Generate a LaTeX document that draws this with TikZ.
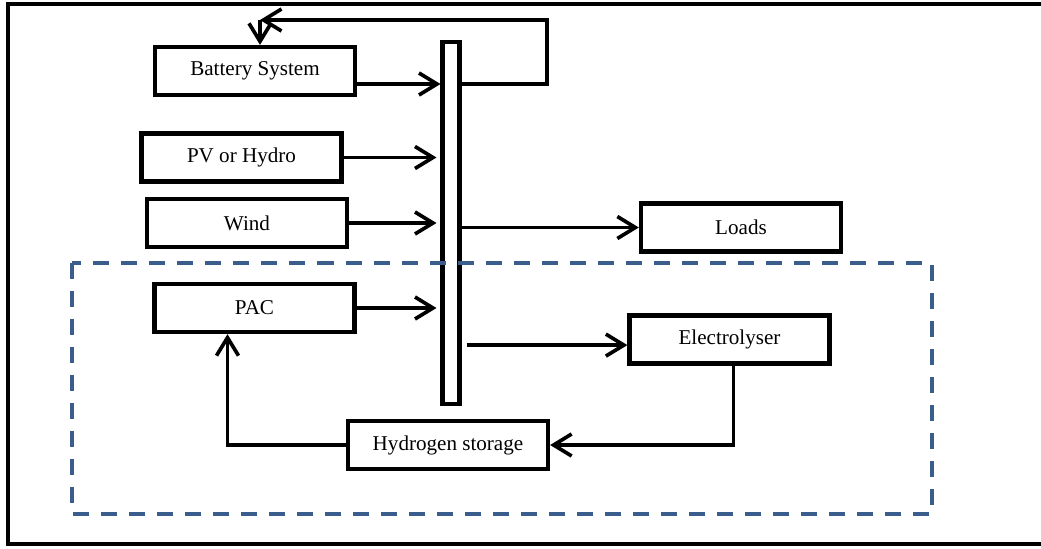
\documentclass[tikz,border=0pt]{standalone}
\usepackage{fontspec}
\setmainfont{Liberation Serif}
\usetikzlibrary{arrows.meta}

\definecolor{zonecol}{RGB}{59,93,140}

\begin{document}
\begin{tikzpicture}[
    x=0.025cm, y=-0.025cm,
    block/.style={rectangle,draw,line width=3pt,fill=white,inner sep=0pt,minimum width=5cm,minimum height=1.2cm,font=\fontsize{15}{18}\selectfont},
    busbar/.style={rectangle,draw,line width=3pt,fill=white,inner sep=0pt,minimum width=0.42cm,minimum height=9.05cm},
    arr/.style={line width=2.6pt,-{Straight Barb[length=4.5mm,width=5.5mm]}},
    zone/.style={draw=zonecol,line width=2.8pt,dash pattern=on 4mm off 3mm}
    ]

    \useasboundingbox (0,0) rectangle (1041,548);
    \draw[line width=2.6pt] (1041,4) -| (8,544) -- (1041,544);

    \node (bus) [busbar] at (451,223) {};

    \node (battery) [block] at (255,71) {Battery System};
    \node (pv) [block] at (241.5,157.5) {PV or Hydro};
    \node (wind) [block] at (247,223) {Wind};
    \node (pac) [block] at (254.5,308) {PAC};
    \node (loads) [block] at (741,227.5) {Loads};
    \node (elec) [block] at (729.5,339.5) {Electrolyser};
    \node (storage) [block] at (448,445) {Hydrogen storage};

    \coordinate (loop) at (547,20);
    \coordinate (ret) at (260,20);

    \draw[arr] ([yshift=-3.25mm]battery.east) -- ([yshift=-3.25mm]battery.east -| bus.west);
    \foreach \src in {pv,wind,pac}
      \draw[arr,shorten >=1mm] (\src.east) -- (\src.east -| bus.west);

    \draw[arr] ([yshift=-3.25mm]battery.east -| bus.east) -| (loop) -- (ret);
    \draw[arr] (ret) -- (ret |- battery.north);

    \draw[arr] (bus.east |- loads.west) -- (loads.west);
    \draw[arr] ([xshift=1.25mm,yshift=-1.4mm]bus.east |- elec.west) -- ([yshift=-1.4mm]elec.west);
    \draw[arr] ([xshift=0.1cm]elec.south) |- (storage.east);
    \draw[arr] (storage.west) -| ([xshift=-6.75mm]pac.south);

    \draw[zone] (72,263) rectangle (932,514);

  \end{tikzpicture}
\end{document}
